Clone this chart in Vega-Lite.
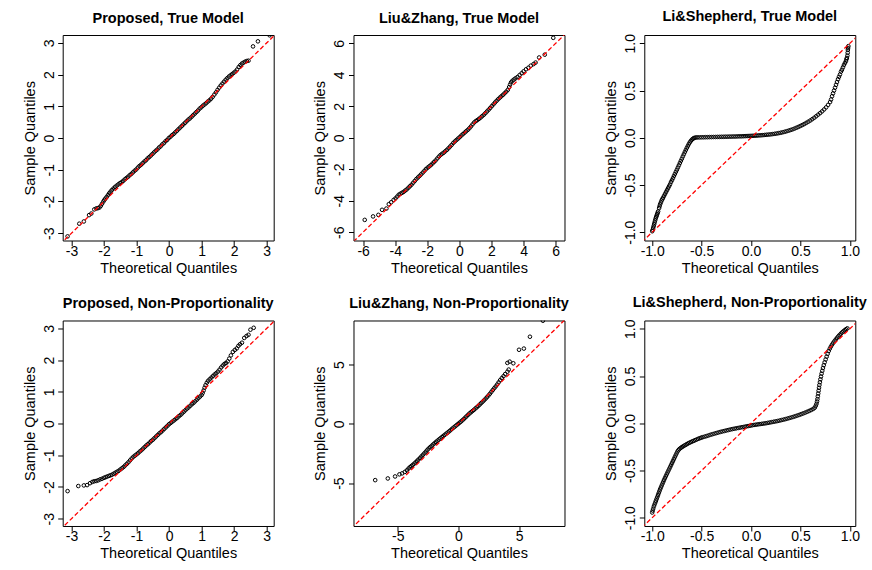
{
"$schema":"https://vega.github.io/schema/vega-lite/v6.json",
"padding":{"left":21.7,"top":8,"right":0,"bottom":0},
"background":"white",
"bounds":"flush",
"columns":3,
"spacing":{"row":79.5,"column":79.8},
"datasets":{
"diag":[{"x":-20,"y":-20},{"x":20,"y":20}],
"p1":[{"x":-3.12,"y":-3.1},{"x":-2.76,"y":-2.7},{"x":-2.62,"y":-2.63},{"x":-2.46,"y":-2.43},{"x":-2.39,"y":-2.38},{"x":-2.3,"y":-2.25},{"x":-2.24,"y":-2.22},{"x":-2.19,"y":-2.21},{"x":-2.14,"y":-2.19},{"x":-2.1,"y":-2.14},{"x":-2.06,"y":-2.07},{"x":-2.02,"y":-2.0},{"x":-1.99,"y":-1.95},{"x":-1.96,"y":-1.91},{"x":-1.92,"y":-1.86},{"x":-1.88,"y":-1.8},{"x":-1.84,"y":-1.74},{"x":-1.8,"y":-1.69},{"x":-1.76,"y":-1.64},{"x":-1.71,"y":-1.59},{"x":-1.66,"y":-1.54},{"x":-1.61,"y":-1.5},{"x":-1.56,"y":-1.46},{"x":-1.51,"y":-1.42},{"x":-1.46,"y":-1.39},{"x":-1.41,"y":-1.35},{"x":-1.36,"y":-1.3},{"x":-1.31,"y":-1.26},{"x":-1.26,"y":-1.22},{"x":-1.21,"y":-1.17},{"x":-1.16,"y":-1.13},{"x":-1.11,"y":-1.08},{"x":-1.06,"y":-1.03},{"x":-1.01,"y":-0.99},{"x":-0.96,"y":-0.93},{"x":-0.91,"y":-0.88},{"x":-0.86,"y":-0.84},{"x":-0.81,"y":-0.79},{"x":-0.76,"y":-0.74},{"x":-0.71,"y":-0.7},{"x":-0.66,"y":-0.64},{"x":-0.61,"y":-0.6},{"x":-0.56,"y":-0.55},{"x":-0.51,"y":-0.5},{"x":-0.46,"y":-0.45},{"x":-0.41,"y":-0.4},{"x":-0.36,"y":-0.36},{"x":-0.31,"y":-0.3},{"x":-0.26,"y":-0.26},{"x":-0.21,"y":-0.2},{"x":-0.16,"y":-0.16},{"x":-0.11,"y":-0.1},{"x":-0.06,"y":-0.06},{"x":-0.01,"y":0},{"x":0.04,"y":0.04},{"x":0.09,"y":0.09},{"x":0.14,"y":0.13},{"x":0.19,"y":0.18},{"x":0.24,"y":0.23},{"x":0.29,"y":0.28},{"x":0.34,"y":0.33},{"x":0.39,"y":0.38},{"x":0.44,"y":0.43},{"x":0.49,"y":0.48},{"x":0.54,"y":0.53},{"x":0.59,"y":0.58},{"x":0.64,"y":0.62},{"x":0.69,"y":0.67},{"x":0.74,"y":0.72},{"x":0.79,"y":0.77},{"x":0.84,"y":0.82},{"x":0.89,"y":0.87},{"x":0.94,"y":0.93},{"x":0.99,"y":0.97},{"x":1.04,"y":1.02},{"x":1.09,"y":1.06},{"x":1.14,"y":1.1},{"x":1.19,"y":1.15},{"x":1.24,"y":1.19},{"x":1.29,"y":1.24},{"x":1.34,"y":1.3},{"x":1.39,"y":1.37},{"x":1.44,"y":1.44},{"x":1.49,"y":1.52},{"x":1.54,"y":1.59},{"x":1.59,"y":1.66},{"x":1.64,"y":1.72},{"x":1.69,"y":1.78},{"x":1.74,"y":1.84},{"x":1.79,"y":1.89},{"x":1.84,"y":1.94},{"x":1.89,"y":1.98},{"x":1.94,"y":2.02},{"x":1.99,"y":2.06},{"x":2.04,"y":2.1},{"x":2.09,"y":2.16},{"x":2.14,"y":2.24},{"x":2.19,"y":2.3},{"x":2.24,"y":2.35},{"x":2.29,"y":2.38},{"x":2.34,"y":2.41},{"x":2.39,"y":2.43},{"x":2.44,"y":2.44},{"x":2.58,"y":2.89},{"x":2.73,"y":3.05},{"x":3.09,"y":3.24}],
"p2":[{"x":-5.9,"y":-5.22},{"x":-5.38,"y":-5},{"x":-5.05,"y":-4.9},{"x":-4.82,"y":-4.58},{"x":-4.55,"y":-4.5},{"x":-4.4,"y":-4.22},{"x":-4.25,"y":-4.1},{"x":-4.1,"y":-3.95},{"x":-3.98,"y":-3.85},{"x":-3.88,"y":-3.74},{"x":-3.78,"y":-3.62},{"x":-3.68,"y":-3.56},{"x":-3.58,"y":-3.5},{"x":-3.48,"y":-3.44},{"x":-3.38,"y":-3.36},{"x":-3.28,"y":-3.28},{"x":-3.18,"y":-3.18},{"x":-3.08,"y":-3.08},{"x":-2.98,"y":-2.98},{"x":-2.88,"y":-2.86},{"x":-2.78,"y":-2.74},{"x":-2.68,"y":-2.62},{"x":-2.58,"y":-2.52},{"x":-2.48,"y":-2.42},{"x":-2.38,"y":-2.32},{"x":-2.28,"y":-2.21},{"x":-2.18,"y":-2.1},{"x":-2.08,"y":-1.99},{"x":-1.98,"y":-1.9},{"x":-1.88,"y":-1.82},{"x":-1.78,"y":-1.74},{"x":-1.68,"y":-1.64},{"x":-1.58,"y":-1.54},{"x":-1.48,"y":-1.44},{"x":-1.38,"y":-1.32},{"x":-1.28,"y":-1.2},{"x":-1.18,"y":-1.1},{"x":-1.08,"y":-1.02},{"x":-0.98,"y":-0.95},{"x":-0.88,"y":-0.86},{"x":-0.78,"y":-0.77},{"x":-0.68,"y":-0.67},{"x":-0.58,"y":-0.56},{"x":-0.48,"y":-0.45},{"x":-0.38,"y":-0.33},{"x":-0.28,"y":-0.23},{"x":-0.18,"y":-0.14},{"x":-0.08,"y":-0.05},{"x":0.02,"y":0.04},{"x":0.12,"y":0.14},{"x":0.22,"y":0.23},{"x":0.32,"y":0.32},{"x":0.42,"y":0.41},{"x":0.52,"y":0.5},{"x":0.62,"y":0.6},{"x":0.72,"y":0.72},{"x":0.82,"y":0.85},{"x":0.92,"y":0.97},{"x":1.02,"y":1.06},{"x":1.12,"y":1.12},{"x":1.22,"y":1.2},{"x":1.32,"y":1.28},{"x":1.42,"y":1.37},{"x":1.52,"y":1.46},{"x":1.62,"y":1.56},{"x":1.72,"y":1.67},{"x":1.82,"y":1.78},{"x":1.92,"y":1.89},{"x":2.02,"y":2.01},{"x":2.12,"y":2.12},{"x":2.22,"y":2.24},{"x":2.32,"y":2.35},{"x":2.42,"y":2.45},{"x":2.52,"y":2.55},{"x":2.62,"y":2.64},{"x":2.72,"y":2.73},{"x":2.82,"y":2.83},{"x":2.92,"y":2.93},{"x":3.02,"y":3.05},{"x":3.1,"y":3.22},{"x":3.16,"y":3.38},{"x":3.22,"y":3.52},{"x":3.3,"y":3.62},{"x":3.4,"y":3.7},{"x":3.5,"y":3.78},{"x":3.62,"y":3.86},{"x":3.75,"y":3.98},{"x":3.88,"y":4.1},{"x":4,"y":4.22},{"x":4.15,"y":4.35},{"x":4.3,"y":4.45},{"x":4.45,"y":4.58},{"x":4.62,"y":4.68},{"x":4.75,"y":4.78},{"x":4.97,"y":5.1},{"x":5.32,"y":5.28},{"x":5.85,"y":6.35}],
"p3":[{"x":-1,"y":-0.99},{"x":-0.995,"y":-0.975},{"x":-0.99,"y":-0.955},{"x":-0.985,"y":-0.935},{"x":-0.98,"y":-0.915},{"x":-0.975,"y":-0.895},{"x":-0.97,"y":-0.875},{"x":-0.965,"y":-0.855},{"x":-0.96,"y":-0.84},{"x":-0.955,"y":-0.825},{"x":-0.95,"y":-0.81},{"x":-0.945,"y":-0.795},{"x":-0.94,"y":-0.78},{"x":-0.93,"y":-0.745},{"x":-0.925,"y":-0.725},{"x":-0.92,"y":-0.705},{"x":-0.912,"y":-0.685},{"x":-0.905,"y":-0.665},{"x":-0.897,"y":-0.65},{"x":-0.89,"y":-0.635},{"x":-0.88,"y":-0.615},{"x":-0.87,"y":-0.595},{"x":-0.86,"y":-0.575},{"x":-0.85,"y":-0.555},{"x":-0.84,"y":-0.535},{"x":-0.83,"y":-0.515},{"x":-0.82,"y":-0.495},{"x":-0.81,"y":-0.47},{"x":-0.8,"y":-0.45},{"x":-0.79,"y":-0.428},{"x":-0.78,"y":-0.405},{"x":-0.77,"y":-0.383},{"x":-0.76,"y":-0.36},{"x":-0.75,"y":-0.338},{"x":-0.74,"y":-0.315},{"x":-0.73,"y":-0.292},{"x":-0.72,"y":-0.268},{"x":-0.71,"y":-0.245},{"x":-0.7,"y":-0.222},{"x":-0.69,"y":-0.198},{"x":-0.68,"y":-0.175},{"x":-0.67,"y":-0.152},{"x":-0.66,"y":-0.13},{"x":-0.65,"y":-0.108},{"x":-0.64,"y":-0.088},{"x":-0.63,"y":-0.068},{"x":-0.62,"y":-0.05},{"x":-0.61,"y":-0.035},{"x":-0.6,"y":-0.022},{"x":-0.59,"y":-0.012},{"x":-0.58,"y":-0.005},{"x":-0.57,"y":0},{"x":-0.555,"y":0.003},{"x":-0.54,"y":0.004},{"x":-0.52,"y":0.004},{"x":-0.5,"y":0.005},{"x":-0.48,"y":0.005},{"x":-0.46,"y":0.006},{"x":-0.44,"y":0.006},{"x":-0.42,"y":0.007},{"x":-0.4,"y":0.007},{"x":-0.38,"y":0.008},{"x":-0.36,"y":0.008},{"x":-0.34,"y":0.009},{"x":-0.32,"y":0.009},{"x":-0.3,"y":0.01},{"x":-0.28,"y":0.01},{"x":-0.26,"y":0.011},{"x":-0.24,"y":0.011},{"x":-0.22,"y":0.012},{"x":-0.2,"y":0.012},{"x":-0.18,"y":0.013},{"x":-0.16,"y":0.013},{"x":-0.14,"y":0.014},{"x":-0.12,"y":0.015},{"x":-0.1,"y":0.015},{"x":-0.08,"y":0.016},{"x":-0.06,"y":0.017},{"x":-0.04,"y":0.018},{"x":-0.02,"y":0.019},{"x":0,"y":0.02},{"x":0.02,"y":0.021},{"x":0.04,"y":0.022},{"x":0.06,"y":0.023},{"x":0.08,"y":0.025},{"x":0.1,"y":0.026},{"x":0.12,"y":0.028},{"x":0.14,"y":0.03},{"x":0.16,"y":0.032},{"x":0.18,"y":0.034},{"x":0.2,"y":0.036},{"x":0.22,"y":0.039},{"x":0.24,"y":0.042},{"x":0.26,"y":0.045},{"x":0.28,"y":0.049},{"x":0.3,"y":0.053},{"x":0.32,"y":0.058},{"x":0.34,"y":0.063},{"x":0.36,"y":0.069},{"x":0.38,"y":0.075},{"x":0.4,"y":0.082},{"x":0.42,"y":0.089},{"x":0.44,"y":0.097},{"x":0.46,"y":0.106},{"x":0.48,"y":0.115},{"x":0.5,"y":0.125},{"x":0.52,"y":0.135},{"x":0.54,"y":0.146},{"x":0.56,"y":0.158},{"x":0.58,"y":0.17},{"x":0.6,"y":0.183},{"x":0.62,"y":0.197},{"x":0.64,"y":0.212},{"x":0.66,"y":0.228},{"x":0.68,"y":0.245},{"x":0.7,"y":0.262},{"x":0.72,"y":0.28},{"x":0.74,"y":0.3},{"x":0.76,"y":0.322},{"x":0.78,"y":0.348},{"x":0.8,"y":0.378},{"x":0.81,"y":0.405},{"x":0.82,"y":0.44},{"x":0.83,"y":0.47},{"x":0.84,"y":0.5},{"x":0.85,"y":0.53},{"x":0.86,"y":0.56},{"x":0.87,"y":0.59},{"x":0.88,"y":0.62},{"x":0.89,"y":0.645},{"x":0.9,"y":0.67},{"x":0.91,"y":0.7},{"x":0.92,"y":0.72},{"x":0.93,"y":0.745},{"x":0.94,"y":0.77},{"x":0.95,"y":0.79},{"x":0.96,"y":0.81},{"x":0.965,"y":0.83},{"x":0.97,"y":0.845},{"x":0.975,"y":0.87},{"x":0.978,"y":0.9},{"x":0.98,"y":0.93},{"x":0.982,"y":0.95},{"x":0.985,"y":0.97}],
"p4":[{"x":-3.12,"y":-2.13},{"x":-2.79,"y":-1.97},{"x":-2.62,"y":-1.95},{"x":-2.52,"y":-1.94},{"x":-2.43,"y":-1.88},{"x":-2.36,"y":-1.84},{"x":-2.3,"y":-1.82},{"x":-2.24,"y":-1.81},{"x":-2.18,"y":-1.79},{"x":-2.12,"y":-1.76},{"x":-2.06,"y":-1.74},{"x":-2,"y":-1.71},{"x":-1.95,"y":-1.69},{"x":-1.9,"y":-1.67},{"x":-1.85,"y":-1.65},{"x":-1.8,"y":-1.63},{"x":-1.75,"y":-1.61},{"x":-1.7,"y":-1.58},{"x":-1.65,"y":-1.55},{"x":-1.6,"y":-1.52},{"x":-1.55,"y":-1.49},{"x":-1.5,"y":-1.45},{"x":-1.45,"y":-1.41},{"x":-1.4,"y":-1.37},{"x":-1.35,"y":-1.32},{"x":-1.3,"y":-1.27},{"x":-1.25,"y":-1.22},{"x":-1.2,"y":-1.16},{"x":-1.15,"y":-1.1},{"x":-1.1,"y":-1.05},{"x":-1.05,"y":-1.01},{"x":-1,"y":-0.97},{"x":-0.95,"y":-0.93},{"x":-0.9,"y":-0.88},{"x":-0.85,"y":-0.84},{"x":-0.8,"y":-0.79},{"x":-0.75,"y":-0.74},{"x":-0.7,"y":-0.69},{"x":-0.65,"y":-0.65},{"x":-0.6,"y":-0.6},{"x":-0.55,"y":-0.55},{"x":-0.5,"y":-0.51},{"x":-0.45,"y":-0.46},{"x":-0.4,"y":-0.41},{"x":-0.35,"y":-0.36},{"x":-0.3,"y":-0.31},{"x":-0.25,"y":-0.27},{"x":-0.2,"y":-0.22},{"x":-0.15,"y":-0.17},{"x":-0.1,"y":-0.12},{"x":-0.05,"y":-0.07},{"x":0,"y":-0.02},{"x":0.05,"y":0.02},{"x":0.1,"y":0.06},{"x":0.15,"y":0.1},{"x":0.2,"y":0.14},{"x":0.25,"y":0.18},{"x":0.3,"y":0.23},{"x":0.35,"y":0.27},{"x":0.4,"y":0.32},{"x":0.45,"y":0.37},{"x":0.5,"y":0.42},{"x":0.55,"y":0.47},{"x":0.6,"y":0.51},{"x":0.65,"y":0.56},{"x":0.7,"y":0.61},{"x":0.75,"y":0.65},{"x":0.8,"y":0.7},{"x":0.85,"y":0.75},{"x":0.9,"y":0.8},{"x":0.95,"y":0.85},{"x":1,"y":0.9},{"x":1.03,"y":0.96},{"x":1.06,"y":1.04},{"x":1.09,"y":1.13},{"x":1.12,"y":1.21},{"x":1.16,"y":1.29},{"x":1.2,"y":1.35},{"x":1.25,"y":1.4},{"x":1.3,"y":1.45},{"x":1.35,"y":1.5},{"x":1.4,"y":1.55},{"x":1.45,"y":1.59},{"x":1.5,"y":1.64},{"x":1.55,"y":1.7},{"x":1.6,"y":1.77},{"x":1.65,"y":1.83},{"x":1.7,"y":1.88},{"x":1.75,"y":1.91},{"x":1.8,"y":1.96},{"x":1.85,"y":2.05},{"x":1.9,"y":2.15},{"x":1.96,"y":2.26},{"x":2.02,"y":2.32},{"x":2.08,"y":2.37},{"x":2.13,"y":2.45},{"x":2.18,"y":2.5},{"x":2.24,"y":2.55},{"x":2.31,"y":2.7},{"x":2.38,"y":2.76},{"x":2.44,"y":2.8},{"x":2.5,"y":2.96},{"x":2.6,"y":3.02}],
"p5":[{"x":-6.86,"y":-4.75},{"x":-5.82,"y":-4.61},{"x":-5.22,"y":-4.44},{"x":-4.86,"y":-4.26},{"x":-4.64,"y":-4.18},{"x":-4.42,"y":-4.06},{"x":-4.25,"y":-3.92},{"x":-4.12,"y":-3.78},{"x":-4,"y":-3.66},{"x":-3.88,"y":-3.56},{"x":-3.76,"y":-3.46},{"x":-3.64,"y":-3.36},{"x":-3.52,"y":-3.24},{"x":-3.4,"y":-3.12},{"x":-3.28,"y":-3},{"x":-3.16,"y":-2.88},{"x":-3.04,"y":-2.74},{"x":-2.92,"y":-2.61},{"x":-2.8,"y":-2.48},{"x":-2.68,"y":-2.34},{"x":-2.56,"y":-2.2},{"x":-2.44,"y":-2.07},{"x":-2.32,"y":-1.96},{"x":-2.2,"y":-1.85},{"x":-2.08,"y":-1.74},{"x":-1.96,"y":-1.63},{"x":-1.84,"y":-1.52},{"x":-1.72,"y":-1.42},{"x":-1.6,"y":-1.32},{"x":-1.48,"y":-1.22},{"x":-1.36,"y":-1.12},{"x":-1.24,"y":-1.02},{"x":-1.12,"y":-0.92},{"x":-1,"y":-0.83},{"x":-0.88,"y":-0.73},{"x":-0.76,"y":-0.63},{"x":-0.64,"y":-0.53},{"x":-0.52,"y":-0.42},{"x":-0.4,"y":-0.32},{"x":-0.28,"y":-0.22},{"x":-0.16,"y":-0.12},{"x":-0.04,"y":-0.02},{"x":0.08,"y":0.08},{"x":0.2,"y":0.18},{"x":0.32,"y":0.29},{"x":0.44,"y":0.4},{"x":0.56,"y":0.52},{"x":0.68,"y":0.64},{"x":0.8,"y":0.76},{"x":0.92,"y":0.88},{"x":1.04,"y":0.98},{"x":1.16,"y":1.08},{"x":1.28,"y":1.18},{"x":1.4,"y":1.29},{"x":1.52,"y":1.4},{"x":1.64,"y":1.51},{"x":1.76,"y":1.63},{"x":1.88,"y":1.75},{"x":2,"y":1.87},{"x":2.12,"y":1.99},{"x":2.24,"y":2.12},{"x":2.36,"y":2.25},{"x":2.48,"y":2.39},{"x":2.6,"y":2.54},{"x":2.72,"y":2.7},{"x":2.84,"y":2.86},{"x":2.96,"y":3.01},{"x":3.08,"y":3.16},{"x":3.2,"y":3.32},{"x":3.32,"y":3.5},{"x":3.44,"y":3.68},{"x":3.58,"y":3.86},{"x":3.72,"y":4.02},{"x":3.86,"y":4.2},{"x":4.04,"y":4.4},{"x":4.15,"y":4.58},{"x":4.04,"y":5.14},{"x":4.23,"y":5.25},{"x":4.53,"y":5.11},{"x":5,"y":6.25},{"x":5.4,"y":6.35},{"x":5.9,"y":7.35},{"x":6.97,"y":8.7}],
"p6":[{"x":-1,"y":-0.945},{"x":-0.995,"y":-0.925},{"x":-0.99,"y":-0.905},{"x":-0.983,"y":-0.88},{"x":-0.976,"y":-0.86},{"x":-0.969,"y":-0.84},{"x":-0.962,"y":-0.82},{"x":-0.955,"y":-0.8},{"x":-0.948,"y":-0.78},{"x":-0.941,"y":-0.76},{"x":-0.934,"y":-0.74},{"x":-0.927,"y":-0.72},{"x":-0.92,"y":-0.7},{"x":-0.912,"y":-0.68},{"x":-0.904,"y":-0.66},{"x":-0.896,"y":-0.64},{"x":-0.888,"y":-0.62},{"x":-0.88,"y":-0.6},{"x":-0.871,"y":-0.58},{"x":-0.862,"y":-0.56},{"x":-0.853,"y":-0.54},{"x":-0.844,"y":-0.52},{"x":-0.835,"y":-0.5},{"x":-0.826,"y":-0.48},{"x":-0.817,"y":-0.46},{"x":-0.808,"y":-0.44},{"x":-0.799,"y":-0.42},{"x":-0.79,"y":-0.4},{"x":-0.781,"y":-0.38},{"x":-0.772,"y":-0.36},{"x":-0.763,"y":-0.34},{"x":-0.754,"y":-0.32},{"x":-0.745,"y":-0.3},{"x":-0.735,"y":-0.285},{"x":-0.725,"y":-0.273},{"x":-0.712,"y":-0.262},{"x":-0.7,"y":-0.253},{"x":-0.688,"y":-0.245},{"x":-0.675,"y":-0.237},{"x":-0.662,"y":-0.229},{"x":-0.649,"y":-0.221},{"x":-0.636,"y":-0.213},{"x":-0.622,"y":-0.206},{"x":-0.608,"y":-0.199},{"x":-0.594,"y":-0.192},{"x":-0.58,"y":-0.186},{"x":-0.565,"y":-0.179},{"x":-0.55,"y":-0.172},{"x":-0.535,"y":-0.165},{"x":-0.52,"y":-0.159},{"x":-0.505,"y":-0.153},{"x":-0.49,"y":-0.148},{"x":-0.47,"y":-0.142},{"x":-0.45,"y":-0.136},{"x":-0.43,"y":-0.129},{"x":-0.41,"y":-0.122},{"x":-0.39,"y":-0.116},{"x":-0.37,"y":-0.11},{"x":-0.35,"y":-0.104},{"x":-0.33,"y":-0.098},{"x":-0.31,"y":-0.092},{"x":-0.29,"y":-0.087},{"x":-0.27,"y":-0.082},{"x":-0.25,"y":-0.077},{"x":-0.23,"y":-0.072},{"x":-0.21,"y":-0.067},{"x":-0.19,"y":-0.062},{"x":-0.17,"y":-0.058},{"x":-0.15,"y":-0.054},{"x":-0.13,"y":-0.05},{"x":-0.11,"y":-0.046},{"x":-0.09,"y":-0.042},{"x":-0.07,"y":-0.038},{"x":-0.05,"y":-0.034},{"x":-0.03,"y":-0.03},{"x":-0.01,"y":-0.026},{"x":0.01,"y":-0.022},{"x":0.03,"y":-0.018},{"x":0.05,"y":-0.015},{"x":0.07,"y":-0.012},{"x":0.09,"y":-0.009},{"x":0.11,"y":-0.006},{"x":0.13,"y":-0.003},{"x":0.15,"y":0},{"x":0.17,"y":0.004},{"x":0.19,"y":0.008},{"x":0.21,"y":0.012},{"x":0.23,"y":0.016},{"x":0.25,"y":0.02},{"x":0.27,"y":0.024},{"x":0.29,"y":0.029},{"x":0.31,"y":0.034},{"x":0.33,"y":0.039},{"x":0.35,"y":0.044},{"x":0.37,"y":0.05},{"x":0.39,"y":0.056},{"x":0.41,"y":0.062},{"x":0.43,"y":0.068},{"x":0.45,"y":0.075},{"x":0.47,"y":0.082},{"x":0.49,"y":0.089},{"x":0.51,"y":0.097},{"x":0.53,"y":0.105},{"x":0.55,"y":0.113},{"x":0.57,"y":0.122},{"x":0.59,"y":0.131},{"x":0.61,"y":0.141},{"x":0.63,"y":0.152},{"x":0.645,"y":0.165},{"x":0.655,"y":0.185},{"x":0.662,"y":0.205},{"x":0.668,"y":0.23},{"x":0.672,"y":0.255},{"x":0.676,"y":0.285},{"x":0.68,"y":0.315},{"x":0.684,"y":0.345},{"x":0.688,"y":0.375},{"x":0.692,"y":0.405},{"x":0.697,"y":0.435},{"x":0.702,"y":0.465},{"x":0.708,"y":0.495},{"x":0.714,"y":0.525},{"x":0.721,"y":0.555},{"x":0.728,"y":0.585},{"x":0.736,"y":0.615},{"x":0.745,"y":0.645},{"x":0.755,"y":0.675},{"x":0.765,"y":0.705},{"x":0.775,"y":0.735},{"x":0.786,"y":0.765},{"x":0.797,"y":0.79},{"x":0.808,"y":0.812},{"x":0.82,"y":0.833},{"x":0.832,"y":0.852},{"x":0.845,"y":0.87},{"x":0.858,"y":0.888},{"x":0.871,"y":0.905},{"x":0.884,"y":0.921},{"x":0.897,"y":0.936},{"x":0.91,"y":0.95},{"x":0.923,"y":0.963},{"x":0.936,"y":0.975},{"x":0.949,"y":0.986},{"x":0.962,"y":0.996},{"x":0.975,"y":1.005}]
},
"concat":[
{"title":"Proposed, True Model","width":211,"height":205.5,"layer":[
{"data":{"name":"p1"},"mark":{"type":"point","filled":false,"clip":true,"size":13,"strokeWidth":1,"color":"black","opacity":1},"encoding":{"x":{"field":"x","type":"quantitative","scale":{"domain":[-3.27,3.215],"nice":false,"zero":false},"axis":{"values":[-3,-2,-1,0,1,2,3],"format":"d","tickCount":20,"labelOverlap":false,"title":"Theoretical Quantiles"}},"y":{"field":"y","type":"quantitative","scale":{"domain":[-3.23,3.25],"nice":false,"zero":false},"axis":{"values":[-3,-2,-1,0,1,2,3],"format":"d","tickCount":20,"labelOverlap":false,"title":"Sample Quantiles"}}}},
{"data":{"name":"diag"},"mark":{"type":"line","color":"#FF0000","strokeDash":[4.5,2.5],"strokeWidth":1.3,"clip":true},"encoding":{"x":{"field":"x","type":"quantitative","scale":{"domain":[-3.27,3.215],"nice":false,"zero":false}},"y":{"field":"y","type":"quantitative","scale":{"domain":[-3.23,3.25],"nice":false,"zero":false}}}}]},
{"title":"Liu&Zhang, True Model","width":211,"height":205.5,"layer":[
{"data":{"name":"p2"},"mark":{"type":"point","filled":false,"clip":true,"size":13,"strokeWidth":1,"color":"black","opacity":1},"encoding":{"x":{"field":"x","type":"quantitative","scale":{"domain":[-6.6,6.55],"nice":false,"zero":false},"axis":{"values":[-6,-4,-2,0,2,4,6],"format":"d","tickCount":20,"labelOverlap":false,"title":"Theoretical Quantiles"}},"y":{"field":"y","type":"quantitative","scale":{"domain":[-6.53,6.53],"nice":false,"zero":false},"axis":{"values":[-6,-4,-2,0,2,4,6],"format":"d","tickCount":20,"labelOverlap":false,"title":"Sample Quantiles"}}}},
{"data":{"name":"diag"},"mark":{"type":"line","color":"#FF0000","strokeDash":[4.5,2.5],"strokeWidth":1.3,"clip":true},"encoding":{"x":{"field":"x","type":"quantitative","scale":{"domain":[-6.6,6.55],"nice":false,"zero":false}},"y":{"field":"y","type":"quantitative","scale":{"domain":[-6.53,6.53],"nice":false,"zero":false}}}}]},
{"title":"Li&Shepherd, True Model","width":211,"height":205.5,"layer":[
{"data":{"name":"p3"},"mark":{"type":"point","filled":false,"clip":true,"size":13,"strokeWidth":1,"color":"black","opacity":1},"encoding":{"x":{"field":"x","type":"quantitative","scale":{"domain":[-1.08,1.055],"nice":false,"zero":false},"axis":{"values":[-1,-0.5,0,0.5,1],"format":".1f","tickCount":20,"labelOverlap":false,"title":"Theoretical Quantiles"}},"y":{"field":"y","type":"quantitative","scale":{"domain":[-1.088,1.088],"nice":false,"zero":false},"axis":{"values":[-1,-0.5,0,0.5,1],"format":".1f","tickCount":20,"labelOverlap":false,"title":"Sample Quantiles"}}}},
{"data":{"name":"diag"},"mark":{"type":"line","color":"#FF0000","strokeDash":[4.5,2.5],"strokeWidth":1.3,"clip":true},"encoding":{"x":{"field":"x","type":"quantitative","scale":{"domain":[-1.08,1.055],"nice":false,"zero":false}},"y":{"field":"y","type":"quantitative","scale":{"domain":[-1.088,1.088],"nice":false,"zero":false}}}}]},
{"title":"Proposed, Non-Proportionality","width":211,"height":205.5,"layer":[
{"data":{"name":"p4"},"mark":{"type":"point","filled":false,"clip":true,"size":13,"strokeWidth":1,"color":"black","opacity":1},"encoding":{"x":{"field":"x","type":"quantitative","scale":{"domain":[-3.27,3.215],"nice":false,"zero":false},"axis":{"values":[-3,-2,-1,0,1,2,3],"format":"d","tickCount":20,"labelOverlap":false,"title":"Theoretical Quantiles"}},"y":{"field":"y","type":"quantitative","scale":{"domain":[-3.23,3.25],"nice":false,"zero":false},"axis":{"values":[-3,-2,-1,0,1,2,3],"format":"d","tickCount":20,"labelOverlap":false,"title":"Sample Quantiles"}}}},
{"data":{"name":"diag"},"mark":{"type":"line","color":"#FF0000","strokeDash":[4.5,2.5],"strokeWidth":1.3,"clip":true},"encoding":{"x":{"field":"x","type":"quantitative","scale":{"domain":[-3.27,3.215],"nice":false,"zero":false}},"y":{"field":"y","type":"quantitative","scale":{"domain":[-3.23,3.25],"nice":false,"zero":false}}}}]},
{"title":"Liu&Zhang, Non-Proportionality","width":211,"height":205.5,"layer":[
{"data":{"name":"p5"},"mark":{"type":"point","filled":false,"clip":true,"size":13,"strokeWidth":1,"color":"black","opacity":1},"encoding":{"x":{"field":"x","type":"quantitative","scale":{"domain":[-8.65,8.75],"nice":false,"zero":false},"axis":{"values":[-5,0,5],"format":"d","tickCount":20,"labelOverlap":false,"title":"Theoretical Quantiles"}},"y":{"field":"y","type":"quantitative","scale":{"domain":[-8.62,8.72],"nice":false,"zero":false},"axis":{"values":[-5,0,5],"format":"d","tickCount":20,"labelOverlap":false,"title":"Sample Quantiles"}}}},
{"data":{"name":"diag"},"mark":{"type":"line","color":"#FF0000","strokeDash":[4.5,2.5],"strokeWidth":1.3,"clip":true},"encoding":{"x":{"field":"x","type":"quantitative","scale":{"domain":[-8.65,8.75],"nice":false,"zero":false}},"y":{"field":"y","type":"quantitative","scale":{"domain":[-8.62,8.72],"nice":false,"zero":false}}}}]},
{"title":"Li&Shepherd, Non-Proportionality","width":211,"height":205.5,"layer":[
{"data":{"name":"p6"},"mark":{"type":"point","filled":false,"clip":true,"size":13,"strokeWidth":1,"color":"black","opacity":1},"encoding":{"x":{"field":"x","type":"quantitative","scale":{"domain":[-1.08,1.055],"nice":false,"zero":false},"axis":{"values":[-1,-0.5,0,0.5,1],"format":".1f","tickCount":20,"labelOverlap":false,"title":"Theoretical Quantiles"}},"y":{"field":"y","type":"quantitative","scale":{"domain":[-1.088,1.088],"nice":false,"zero":false},"axis":{"values":[-1,-0.5,0,0.5,1],"format":".1f","tickCount":20,"labelOverlap":false,"title":"Sample Quantiles"}}}},
{"data":{"name":"diag"},"mark":{"type":"line","color":"#FF0000","strokeDash":[4.5,2.5],"strokeWidth":1.3,"clip":true},"encoding":{"x":{"field":"x","type":"quantitative","scale":{"domain":[-1.08,1.055],"nice":false,"zero":false}},"y":{"field":"y","type":"quantitative","scale":{"domain":[-1.088,1.088],"nice":false,"zero":false}}}}]}
],
"config":{
"font":"Liberation Sans",
"view":{"stroke":"black","strokeWidth":1},
"axis":{"domain":false,"grid":false,"tickColor":"black","tickSize":5,"tickWidth":1,"labelFont":"Liberation Sans","labelFontSize":14,"labelColor":"black","labelOverlap":false,"labelFlush":false,"labelExpr":"replace(datum.label, '\u2212', '-')","titleFont":"Liberation Sans","titleFontSize":14.5,"titleFontWeight":"normal","titleColor":"black"},
"axisX":{"labelPadding":-1,"titlePadding":3},
"axisY":{"labelAngle":-90,"labelPadding":1.5,"titlePadding":5},
"title":{"font":"Liberation Sans","fontSize":14.5,"fontWeight":"bold","color":"black","offset":9}
}
}
